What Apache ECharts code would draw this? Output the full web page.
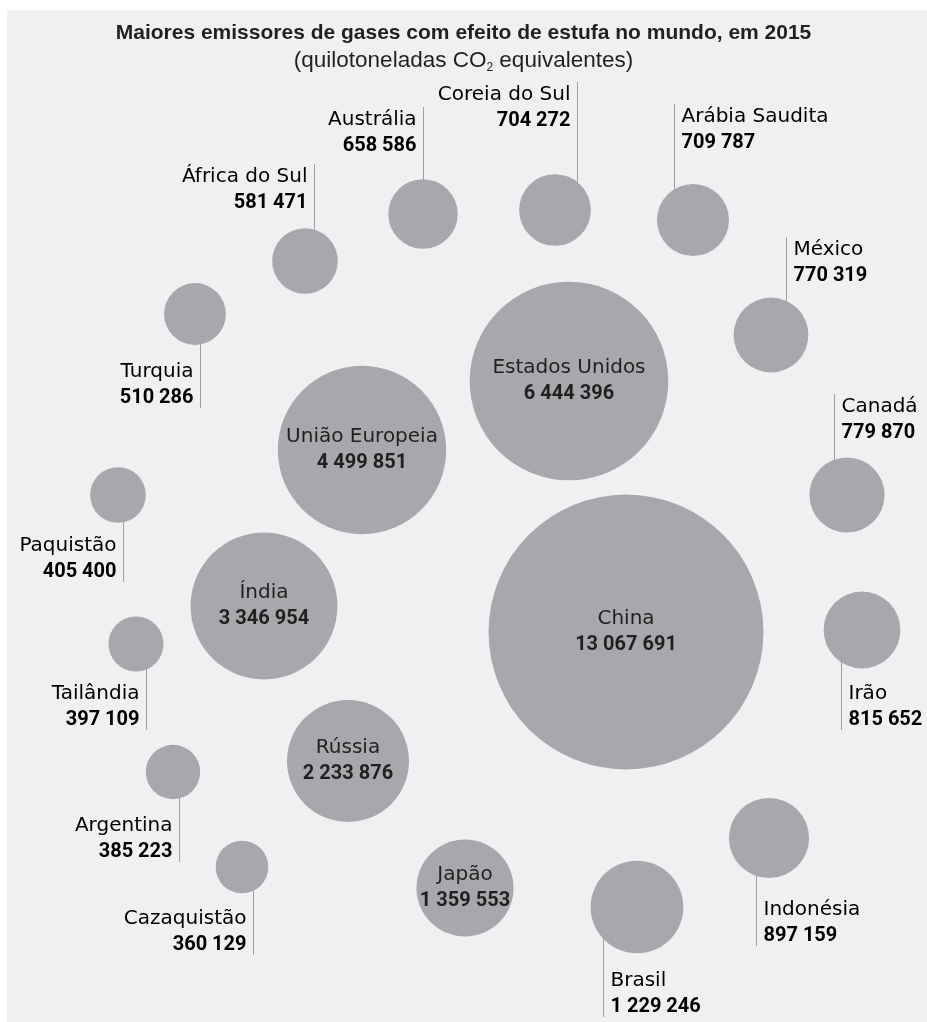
<!DOCTYPE html>
<html>
<head>
<meta charset="utf-8">
<script src="https://cdn.jsdelivr.net/npm/echarts@6/dist/echarts.min.js"></script>
<style>
html,body{margin:0;padding:0;background:#fff}
#chart{width:927px;height:1022px}
</style>
</head>
<body>
<div id="chart"></div>
<script>
// maiores emissores 2015, quilotoneladas CO2 eq.
const countries = ['China','Estados Unidos','União Europeia','Índia','Rússia','Japão','Brasil','Indonésia','Irão','Canadá',
    'México','Arábia Saudita','Coreia do Sul','Austrália','África do Sul','Turquia','Paquistão','Tailândia','Argentina','Cazaquistão'];
const emissions = [13067691,6444396,4499851,3346954,2233876,1359553,1229246,897159,815652,779870,
    770319,709787,704272,658586,581471,510286,405400,397109,385223,360129];

// layout of the bubbles on the page (hidden axes, 0..927 x 0..1022)
const posX = [626,569,362,264,348,465,637,769,862,847,771,693,555,423,305,195,118,136,173,242];
const posY = [632,381,450,606,761,888,907,838,630,495,335,220,210,214,261,314,495,644,772,867];

// leader lines: x offset from centre, y where the line stops, side of the text (null = label inside)
const leadDx   = [null,null,null,null,null,null,-34,-13,-21,-13,15,-19,22,0,9,5,5,10,6,11];
const leadEnd  = [null,null,null,null,null,null,1017,946,730,394,237,104,82,107,164,408,582,730,862,955];
const leadSide = [null,null,null,null,null,null,'right','right','right','right','right','right','left','left','left','left','left','left','left','left'];

const TXT = '#231f20';
const rich = {
    n: {fontFamily: 'DejaVu Sans', fontSize: 20, lineHeight: 26, color: TXT},
    v: {fontFamily: 'Roboto', fontWeight: 'bold', fontSize: 20, lineHeight: 26, color: TXT}
};

function radius(v){
    return 61 * Math.pow(v / 2233876, 0.46);
}
function fmt(v){
    return String(v).replace(/\B(?=(\d{3})+(?!\d))/g, ' ');
}

const bubbleData = countries.map(function(c, i){
    const item = {name: c, value: [posX[i], posY[i], emissions[i]]};
    if (leadSide[i] == null) {
        item.label = {show: true};
    }
    return item;
});

const chart = echarts.init(document.getElementById('chart'));
chart.setOption({
    animation: false,
    backgroundColor: '#fff',
    graphic: [{
        type: 'rect', z: -10, silent: true,
        shape: {x: 7, y: 10, width: 920, height: 1012},
        style: {fill: '#eff0f2'}
    }],
    title: {
        left: 'center',
        top: 15,
        itemGap: 2,
        text: 'Maiores emissores de gases com efeito de estufa no mundo, em 2015',
        textStyle: {fontFamily: 'Liberation Sans', fontWeight: 'bold', fontSize: 21, lineHeight: 26, color: TXT},
        subtext: '(quilotoneladas CO{s|2} equivalentes)',
        subtextStyle: {
            fontFamily: 'Liberation Sans', fontSize: 22.5, lineHeight: 26, color: TXT,
            rich: {
                s: {fontFamily: 'Liberation Sans', fontSize: 12, color: TXT, verticalAlign: 'bottom', lineHeight: 18}
            }
        }
    },
    grid: {left: 0, right: 0, top: 0, bottom: 0},
    xAxis: {type: 'value', min: 0, max: 927, show: false},
    yAxis: {type: 'value', min: 0, max: 1022, inverse: true, show: false},
    series: [
        {
            type: 'scatter',
            data: bubbleData,
            symbolSize: function(d){ return 2 * radius(d[2]); },
            itemStyle: {color: '#a7a8ab', opacity: 1},
            label: {
                show: false,
                position: 'inside',
                formatter: function(p){ return '{n|' + p.name + '}\n{v|' + fmt(p.value[2]) + '}'; },
                rich: rich
            },
            emphasis: {disabled: true},
            z: 2
        },
        {
            type: 'custom',
            data: countries.map(function(c, i){ return [posX[i], posY[i], emissions[i]]; }),
            encode: {x: 0, y: 1},
            z: 3,
            silent: true,
            renderItem: function(params, api){
                const i = params.dataIndex;
                if (leadSide[i] == null) return;
                const c = api.coord([posX[i], posY[i]]);
                const r = radius(emissions[i]);
                const dx = leadDx[i];
                const endY = api.coord([0, leadEnd[i]])[1];
                const up = endY < c[1];
                const h = Math.sqrt(Math.max(r * r - dx * dx, 0));
                const startY = up ? c[1] - h + 1 : c[1] + h - 1;
                const lx = Math.round(c[0] + dx) + 0.5;
                const onLeft = leadSide[i] === 'left';
                return {
                    type: 'group',
                    children: [
                        {
                            type: 'line',
                            shape: {x1: lx, y1: startY, x2: lx, y2: endY},
                            style: {stroke: '#9fa0a3', lineWidth: 1}
                        },
                        {
                            type: 'text',
                            x: lx + (onLeft ? -7 : 7),
                            y: up ? endY : endY + 3,
                            style: {
                                text: '{n|' + countries[i] + '}\n{v|' + fmt(emissions[i]) + '}',
                                rich: rich,
                                align: onLeft ? 'right' : 'left',
                                verticalAlign: up ? 'top' : 'bottom'
                            }
                        }
                    ]
                };
            }
        }
    ]
});
</script>
</body>
</html>
